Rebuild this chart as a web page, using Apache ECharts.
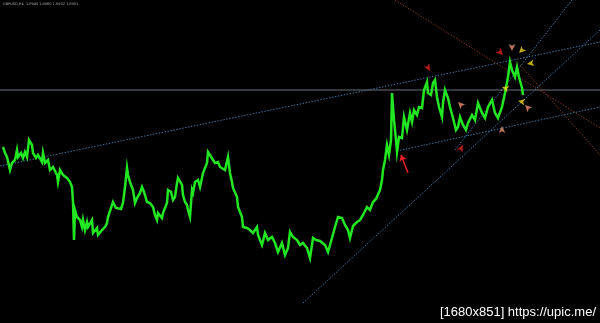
<!DOCTYPE html>
<html><head><meta charset="utf-8">
<script src="https://cdn.jsdelivr.net/npm/echarts@6/dist/echarts.min.js"></script>
<style>html,body{margin:0;padding:0;background:#000;}#c{width:600px;height:323px;}</style>
</head><body><div id="c"></div>
<script>
// price series: [bar index, price]
const priceA = [[3,253],[5,247],[7,243],[10,230],[12,237],[15,240],[17,250],[18,243],[21,247],[23,242],[25,248],[27,243],[29,260],[32,255],[33,247],[36,242],[38,245],[42,238],[43,247],[45,237],[48,240],[50,230],[53,233],[55,232],[57,225],[58,218],[60,230],[63,225],[67,222],[70,218],[72,213],[73,198],[74,160],[75,190],[77,183],[80,180],[82,173],[83,180],[85,170],[87,178],[88,173],[92,180],[93,167],[97,172],[98,165],[102,170],[105,173],[107,177],[108,183],[112,195],[113,198],[116,192],[118,193],[121,191],[123,197],[125,213],[127,232],[128,225],[130,218],[133,210],[135,197],[137,202],[140,207],[142,213],[144,208],[147,198],[150,197],[153,193],[155,185],[157,180],[158,187],[162,182],[163,187],[165,192],[167,197],[168,210],[171,208],[173,200],[175,203],[177,217],[178,222],[182,215],[183,205],[185,198],[187,195],[188,190],[190,183],[192,210],[193,207],[195,218],[198,220]];
const priceB = [[200,213],[203,227],[207,237],[208,248],[210,245],[213,240],[215,237],[218,238],[220,233],[222,232],[225,230],[228,243],[230,227],[232,218],[233,212],[237,203],[238,193],[240,188],[242,183],[243,173],[247,172],[250,170],[253,167],[257,173],[258,165],[262,155],[265,167],[268,160],[272,163],[275,157],[278,148],[282,157],[285,145],[288,152],[290,168],[293,163],[297,160],[300,155],[303,157],[307,152],[310,142],[313,162],[316,160],[320,159],[325,155],[328,148],[332,162],[335,173],[338,183],[342,182],[345,175],[348,170],[350,162],[353,174],[357,178],[360,180],[363,185],[367,193],[370,190],[373,198],[376,201],[378,203],[380,210],[382,220],[383,230],[385,240],[387,255],[389,245],[391,260]];
const priceC = [[392,307],[394,280],[396,260],[397,248],[399,263],[402,262],[404,283],[407,270],[410,287],[412,278],[414,290],[417,285],[419,293],[422,292],[424,310],[427,318],[428,307],[431,305],[433,317],[435,320],[437,303],[439,293],[442,283],[443,297],[445,310],[448,302],[450,293],[453,282],[456,270],[458,273],[460,283],[463,275],[466,270],[468,277],[472,285],[475,280],[478,297],[482,287],[485,282],[488,293],[492,300],[495,287],[498,282],[502,293],[505,307],[508,323],[510,338],[512,330],[515,323],[517,333],[519,323],[522,312],[523,305]];
const price = priceA.concat(priceB, priceC);

const hLevel = 310;
const blueLines = [
  [[0,234],[600,358]],
  [[397,249],[600,293]],
  [[303,97],[600,370]],
  [[455,250],[572,400]]
];
const redLines = [
  [[395,400],[600,272]],
  [[520,335],[600,245]]
];
const redArrows = [[430,329,210],[503,345,225],[463,255,-30]];
const orangeArrows = [[512,349,180],[458,298,45],[502,274,0],[525,295,45]];
const yellowArrows = [[519,347,135],[527,336,100],[502,313,70],[518,299,80]];
const bigArrow = [[408,227],[401,245]];
const headerText = 'GBPUSD,H4  1.6945 1.6960 1.6932 1.6951';
const watermark = '[1680x851] https://upic.me/';

const chart = echarts.init(document.getElementById('c'), null, {renderer:'canvas'});
const series = [];
blueLines.forEach(l => series.push({type:'line', data:l, symbol:'none', silent:true,
  lineStyle:{color:'#3a74a4', width:1, type:[1.5,1.5]}, z:1}));
redLines.forEach(l => series.push({type:'line', data:l, symbol:'none', silent:true,
  lineStyle:{color:'#84341f', width:1, type:[1.5,1.5]}, z:1}));
series.push({type:'line', data:[[0,hLevel],[600,hLevel]], symbol:'none',
  lineStyle:{color:'#66747e', width:1}, z:1});
series.push({type:'line', data:price, symbol:'none', lineStyle:{color:'#22e622', width:2.5, join:'miter'}, z:3});
function arrows(d, color){
  return {type:'scatter', data:d, symbol:'arrow', symbolSize:[5,7],
    symbolRotate:function(v){return v[2];}, itemStyle:{color:color}, z:4};
}
series.push(arrows(redArrows,'#e82020'));
series.push(arrows(orangeArrows,'#f09070'));
series.push(arrows(yellowArrows,'#f0d818'));
series.push({type:'lines', coordinateSystem:'cartesian2d', data:[{coords:bigArrow}],
  symbol:['none','arrow'], symbolSize:6, lineStyle:{color:'#e82020', width:1.5, opacity:1}, z:4});

chart.setOption({
  backgroundColor:'#000',
  animation:false,
  grid:{left:0,right:0,top:0,bottom:0},
  xAxis:{type:'value', min:0, max:600, show:false},
  yAxis:{type:'value', min:77, max:400, show:false},
  series:series,
  graphic:[
    {type:'text', left:3, top:2, style:{text:headerText, fill:'#a8a8a8', font:'3.5px "DejaVu Sans"'}},
    {type:'text', right:4, bottom:4, style:{text:watermark, fill:'#ffffff', font:'13px "Liberation Sans"'}}
  ]
});
</script></body></html>
